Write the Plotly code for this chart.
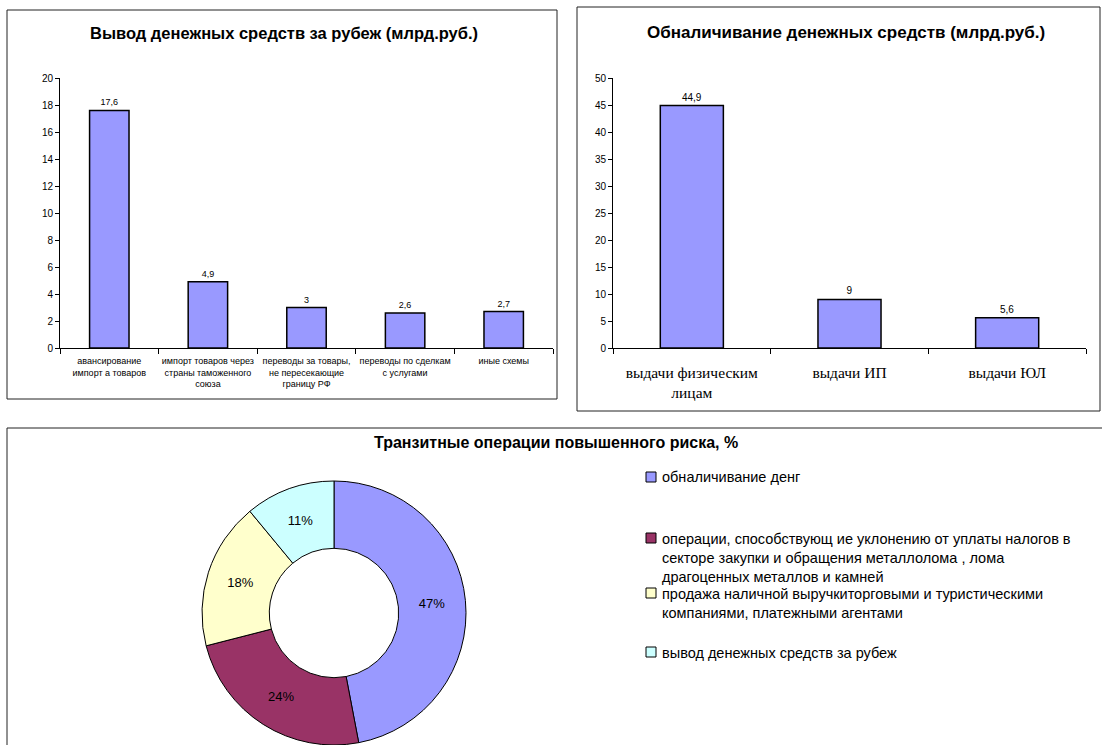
import plotly.graph_objects as go

W, H = 1102, 745

# ---- data ----
export_cats = [
    "авансирование<br>импорт а товаров",
    "импорт товаров через<br>страны таможенного<br>союза",
    "переводы за товары,<br>не пересекающие<br>границу РФ",
    "переводы по сделкам<br>с услугами",
    "иные схемы",
]
export_vals = [17.6, 4.9, 3, 2.6, 2.7]

cash_cats = ["выдачи физическим<br>лицам", "выдачи ИП", "выдачи ЮЛ"]
cash_vals = [44.9, 9, 5.6]

transit_labels = [
    "обналичивание денг",
    "операции, способствующ ие уклонению от уплаты налогов в<br>секторе закупки и обращения металлолома , лома<br>драгоценных металлов и камней",
    "продажа наличной выручкиторговыми и туристическими<br>компаниями, платежными агентами",
    "вывод денежных средств за рубеж",
]
transit_vals = [47, 24, 18, 11]
transit_colors = ["#9999FF", "#993366", "#FFFFCC", "#CCFFFF"]

SANS = "Liberation Sans, Arial, sans-serif"
SERIF = "Liberation Serif, Times New Roman, serif"
BAR_COLOR = "#9999FF"


def fx(px):
    return px / W


def fy(py):
    return (H - py) / H


def fmt(v):
    return f"{v:g}".replace(".", ",")


fig = go.Figure()

# bar chart: capital flight
fig.add_trace(go.Bar(
    x=export_cats, y=export_vals, xaxis="x", yaxis="y",
    marker=dict(color=BAR_COLOR, line=dict(color="black", width=1.5)),
    width=0.4,
    text=[fmt(v) for v in export_vals], textposition="outside",
    textfont=dict(size=9, family=SANS, color="black"),
    cliponaxis=False, showlegend=False, hoverinfo="x+y",
))

# bar chart: cashing out
fig.add_trace(go.Bar(
    x=cash_cats, y=cash_vals, xaxis="x2", yaxis="y2",
    marker=dict(color=BAR_COLOR, line=dict(color="black", width=1.5)),
    width=0.4,
    text=[fmt(v) for v in cash_vals], textposition="outside",
    textfont=dict(size=10, family=SANS, color="black"),
    cliponaxis=False, showlegend=False, hoverinfo="x+y",
))

# donut: high-risk transit operations
fig.add_trace(go.Pie(
    labels=[l.replace("<br>", " ") for l in transit_labels],
    values=transit_vals,
    text=[f"{v}%" for v in transit_vals], textinfo="text",
    textposition="inside", insidetextorientation="horizontal",
    textfont=dict(size=13, family=SANS, color="black"),
    marker=dict(colors=transit_colors, line=dict(color="black", width=1)),
    hole=0.49, sort=False, direction="clockwise", rotation=0,
    domain=dict(x=[fx(202), fx(466)], y=[0, fy(481)]),
    showlegend=False,
))

axis_common = dict(
    showline=True, linecolor="black", linewidth=1, mirror=False,
    showgrid=False, zeroline=False, ticks="outside", tickcolor="black",
    fixedrange=True, automargin=False,
)

fig.update_layout(
    width=W, height=H,
    margin=dict(l=0, r=0, t=0, b=0),
    paper_bgcolor="white", plot_bgcolor="white",
    font=dict(family=SANS, color="black"),
    bargap=0.6,
    xaxis=dict(axis_common, domain=[fx(60), fx(553)], anchor="y",
               tickson="boundaries", ticklen=5, tickangle=0,
               ticklabelstandoff=4,
               tickfont=dict(size=9, family=SANS, color="black")),
    yaxis=dict(axis_common, domain=[fy(348), fy(78)], anchor="x",
               range=[0, 20], dtick=2, ticklen=4,
               tickfont=dict(size=10, family=SANS, color="black")),
    xaxis2=dict(axis_common, domain=[fx(613), fx(1086)], anchor="y2",
                tickson="boundaries", ticklen=5, tickangle=0,
                ticklabelstandoff=10,
                tickfont=dict(size=15.5, family=SERIF, color="black")),
    yaxis2=dict(axis_common, domain=[fy(348), fy(78)], anchor="x2",
                range=[0, 50], dtick=5, ticklen=4,
                tickfont=dict(size=10, family=SANS, color="black")),
)

# panel frames
frame = dict(type="rect", xref="paper", yref="paper",
             line=dict(color="#222222", width=1), fillcolor="rgba(0,0,0,0)", layer="below")
fig.add_shape(frame, x0=fx(7), x1=fx(557), y0=fy(399), y1=fy(10))
fig.add_shape(frame, x0=fx(577), x1=fx(1100), y0=fy(411), y1=fy(7))
fig.add_shape(frame, x0=fx(7), x1=fx(1120), y0=fy(770), y1=fy(428))

# panel titles
titles = [
    ("Вывод денежных средств за рубеж (млрд.руб.)", 284, 33, 16.5),
    ("Обналичивание денежных средств (млрд.руб.)", 846, 33, 17),
    ("Транзитные операции повышенного риска, %", 556, 442, 16),
]
for txt, x, y, size in titles:
    fig.add_annotation(text=f"<b>{txt}</b>", x=fx(x), y=fy(y), xref="paper", yref="paper",
                       showarrow=False, xanchor="center", yanchor="middle",
                       font=dict(size=size, family=SANS, color="black"))

# donut legend
legend_rows = [477, 538, 593, 652]  # centre of the first text line of each item
for label, color, row in zip(transit_labels, transit_colors, legend_rows):
    fig.add_shape(type="rect", xref="paper", yref="paper",
                  x0=fx(646), x1=fx(656), y0=fy(row + 5), y1=fy(row - 5),
                  fillcolor=color, line=dict(color="black", width=1))
    fig.add_annotation(text=label, x=fx(660), y=fy(row - 9.5), xref="paper", yref="paper",
                       showarrow=False, xanchor="left", yanchor="top", align="left",
                       font=dict(size=14.5, family=SANS, color="black"))

fig.write_html("out.html")
